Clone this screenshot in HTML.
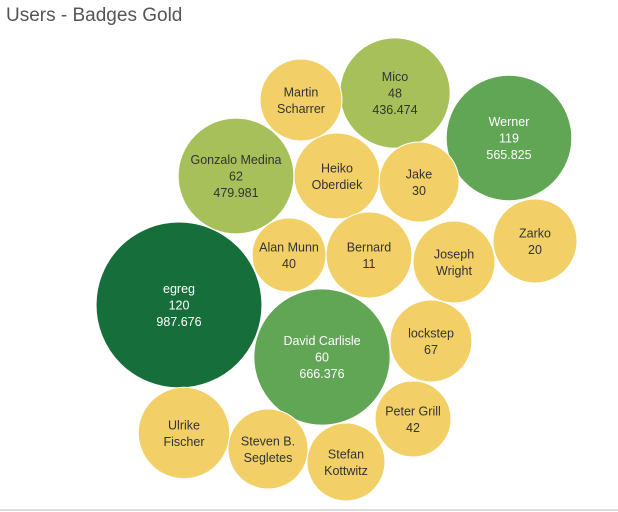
<!DOCTYPE html>
<html><head><meta charset="utf-8"><style>
body{margin:0;width:618px;height:512px;background:#fff;overflow:hidden;font-family:"Liberation Sans",sans-serif}
#title{position:absolute;left:6px;top:5px;font-size:19px;color:#555}
#bl{position:absolute;left:0;top:509px;width:618px;height:2px;background:#ddd}
</style></head><body>
<div id="title">Users - Badges Gold</div>
<div id="bl"></div>
<svg id="chart" width="618" height="512" style="position:absolute;left:0;top:0"></svg>
<script>
const names=[["egreg"],["David Carlisle"],["Werner"],["Gonzalo Medina"],["Mico"],["Martin","Scharrer"],["Heiko","Oberdiek"],["Jake"],["Alan Munn"],["Bernard"],["Joseph","Wright"],["Zarko"],["lockstep"],["Peter Grill"],["Ulrike","Fischer"],["Steven B.","Segletes"],["Stefan","Kottwitz"]];
const badges=[120,60,119,62,48,null,null,30,40,11,null,20,67,42,null,null,null];
const values=[987.676,666.376,565.825,479.981,436.474,241,265,230,196,265,241,253,241,207,300,230,218];
const showValue=[true,true,true,true,true,false,false,false,false,false,false,false,false,false,false,false,false];
// layout centers (pixels)
const cx=[179,322,509,236,395,301,337,419,289,369,454,535,431,413,184,268,346];
const cy=[305,357,138,176,93,100,176,182,255,255,262,241,341,419,433,449,462];
const rScale=v=>2.64*Math.sqrt(v);
const color=v=>v>900?"#166f3a":v>520?"#60a655":v>400?"#a8c05a":"#f2d067";
const svg=document.getElementById('chart');
const NS="http://www.w3.org/2000/svg";
names.forEach((n,i)=>{
  const g=document.createElementNS(NS,'g');
  
  
  const c=document.createElementNS(NS,'circle');
  c.setAttribute('cx',cx[i]);c.setAttribute('cy',cy[i]);c.setAttribute('r',rScale(values[i]));
  c.setAttribute('fill',color(values[i]));c.setAttribute('stroke','#fff');c.setAttribute('stroke-width','1');
  g.appendChild(c);
  const lines=n.slice();
  if(badges[i]!==null)lines.push(String(badges[i]));
  if(showValue[i])lines.push(values[i].toFixed(3));
  const dark=values[i]>520;
  const lh=16.5;const y0=cy[i]-(lines.length-1)*lh/2;
  lines.forEach((t,k)=>{
    const tx=document.createElementNS(NS,'text');
    tx.setAttribute('x',cx[i]);tx.setAttribute('y',y0+k*lh+4.5);
    tx.setAttribute('text-anchor','middle');tx.setAttribute('font-size','12.5');
    tx.setAttribute('font-family','Liberation Sans, sans-serif');
    tx.setAttribute('fill',dark?'#fff':'#333');
    tx.textContent=t;
    g.appendChild(tx);
  });
  svg.appendChild(g);
});
</script>
</body></html>
